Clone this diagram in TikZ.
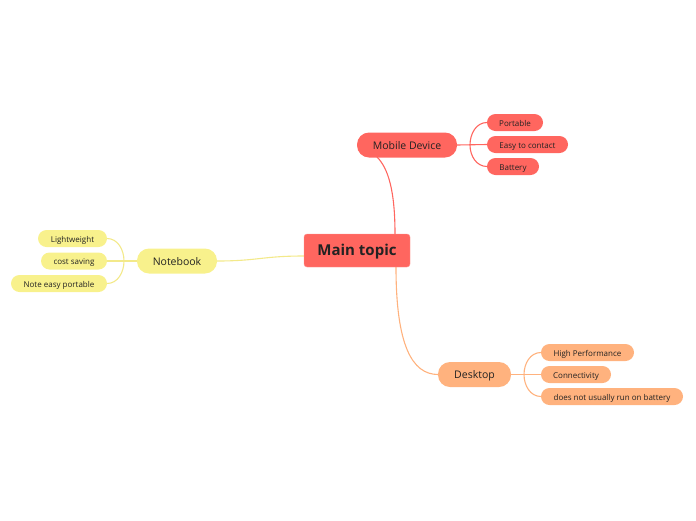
\documentclass[tikz,border=0pt]{standalone}
\usepackage{fontspec}
\setmainfont{Open Sans}
\definecolor{cred}{HTML}{FF665F}
\definecolor{cyel}{HTML}{F8F18C}
\definecolor{cyell}{HTML}{F3E98A}
\definecolor{cora}{HTML}{FFB27E}
\definecolor{ctxt}{HTML}{222222}
\tikzset{
  base/.style={inner sep=0pt, text=ctxt, align=center, text height=0.7em, text depth=0pt},
  topicbox/.style={base, fill=cred, draw=cred!70!white, rounded corners=3pt, minimum width=106pt, minimum height=33pt, text height=0.95em, font=\bfseries\fontsize{15}{17}\selectfont},
  mainbr/.style={base, rounded corners=12pt, minimum height=25pt, text height=0.88em, font=\fontsize{10.5}{12}\selectfont},
  subbr/.style={base, rounded corners=8.5pt, minimum height=17pt, font=\fontsize{8}{9}\selectfont},
  rl/.style={draw=cred, line width=1.1pt},
  yl/.style={draw=cyell, line width=1.1pt},
  ol/.style={draw=cora, line width=1.1pt},
}
\begin{document}
\begin{tikzpicture}[x=1pt,y=-1pt]
\useasboundingbox (0,0) rectangle (696,520);
% connectors from main
\coordinate (mt) at (395,234);
\coordinate (mb) at (396,267);
\coordinate (mbs) at (377,157);
\coordinate (nl) at (304,256);
\draw[rl] (mt) .. controls (395,190) and (388,168) .. (mbs);
\draw[ol] (mb) .. controls (396,345) and (412,374.5) .. (438,374.5);
\draw[yl] (nl) .. controls (262,256) and (258,261) .. (217,261);
% mobile branch
\coordinate (mj) at (470,145);
\draw[rl] (457,145) -- (487,144.5);
\draw[rl] (mj) to[out=90,in=180] (487,122.5);
\draw[rl] (mj) to[out=-90,in=180] (487,166.5);
% desktop branch
\coordinate (dj) at (524,374.5);
\draw[ol] (511,374.5) -- (541,374.5);
\draw[ol] (dj) to[out=90,in=180] (541,352.5);
\draw[ol] (dj) to[out=-90,in=180] (541,396.5);
% notebook branch
\coordinate (nj) at (124,261);
\draw[yl] (137,261) -- (107,261);
\draw[yl] (nj) to[out=90,in=0] (107,238.5);
\draw[yl] (nj) to[out=-90,in=0] (107,283.5);
% nodes
\node[topicbox] (main) at (357,250.5) {Main topic};
\node[mainbr, fill=cred, minimum width=100pt] (mob) at (407,145) {Mobile Device};
\node[subbr, fill=cred, minimum width=56pt] (p1) at (515,122.5) {Portable};
\node[subbr, fill=cred, minimum width=81pt] (p2) at (527.5,144.5) {Easy to contact};
\node[subbr, fill=cred, minimum width=52pt] (p3) at (513,166.5) {Battery};
\node[mainbr, fill=cyel, minimum width=80pt] (nb) at (177,261) {Notebook};
\node[subbr, fill=cyel, minimum width=69pt] (n1) at (72.5,238.5) {Lightweight};
\node[subbr, fill=cyel, minimum width=66pt] (n2) at (74,261) {cost saving};
\node[subbr, fill=cyel, minimum width=96pt] (n3) at (59,283.5) {Note easy portable};
\node[mainbr, fill=cora, minimum width=73pt] (dt) at (474.5,374.5) {Desktop};
\node[subbr, fill=cora, minimum width=93pt] (d1) at (587.5,352.5) {High Performance};
\node[subbr, fill=cora, minimum width=70pt] (d2) at (576,374.5) {Connectivity};
\node[subbr, fill=cora, minimum width=142pt] (d3) at (612,396.5) {does not usually run on battery};
\end{tikzpicture}
\end{document}
